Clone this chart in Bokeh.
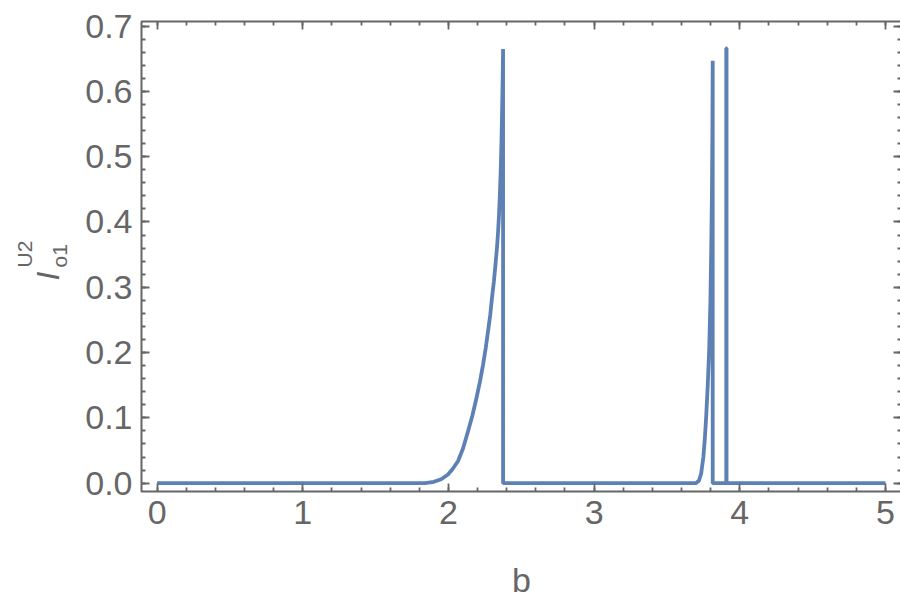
import numpy as np
from bokeh.plotting import figure
from bokeh.models import FixedTicker, LinearAxis, Label, Range1d, NumeralTickFormatter
from bokeh.embed import file_html
from bokeh.resources import INLINE

# ---- data ----
b_vals = [0.0, 1.84, 1.90, 1.95, 1.997, 2.03, 2.066, 2.10, 2.135, 2.165, 2.192, 2.216,
          2.238, 2.256, 2.272, 2.287, 2.299, 2.312, 2.323, 2.333, 2.341, 2.347, 2.352,
          2.358, 2.363, 2.368, 2.372, 2.375, 2.375,
          3.70, 3.72, 3.735, 3.75, 3.76, 3.77, 3.78, 3.79, 3.798, 3.804, 3.809, 3.812,
          3.814, 3.814,
          3.907, 3.907, 3.909, 3.909, 5.0]
i_vals = [0.0, 0.0, 0.002, 0.006, 0.0133, 0.022, 0.034, 0.053, 0.080, 0.104, 0.130, 0.155,
          0.182, 0.207, 0.233, 0.258, 0.284, 0.309, 0.335, 0.360, 0.386, 0.410, 0.437,
          0.472, 0.513, 0.565, 0.615, 0.665, 0.0,
          0.0, 0.004, 0.015, 0.040, 0.068, 0.105, 0.150, 0.205, 0.275, 0.360, 0.450, 0.540,
          0.647, 0.0,
          0.0, 0.666, 0.666, 0.0, 0.0]

x_ticks = [0, 1, 2, 3, 4, 5]
x_minor = [0.0, 0.2, 0.4, 0.6, 0.8, 1.0, 1.2, 1.4, 1.6, 1.8, 2.0, 2.2, 2.4, 2.6, 2.8,
           3.0, 3.2, 3.4, 3.6, 3.8, 4.0, 4.2, 4.4, 4.6, 4.8, 5.0]
y_ticks = [0.0, 0.1, 0.2, 0.3, 0.4, 0.5, 0.6, 0.7]
y_minor = [round(0.02 * k, 2) for k in range(36)]

x_label = "b"
y_main, y_sup, y_sub = "I", "U2", "o1"

GRAY = "#666666"
FONT = "Liberation Sans"
X0, X1 = -0.107, 5.11
Y0, Y1 = -0.0128, 0.7070

p = figure(frame_width=760, frame_height=470,
           x_range=Range1d(X0, X1), y_range=Range1d(Y0, Y1),
           output_backend="svg", toolbar_location=None,
           min_border_left=137, min_border_right=3, min_border_top=21,
           min_border_bottom=119, background_fill_color="white",
           border_fill_color="white")
p.grid.visible = False
p.outline_line_color = GRAY
p.outline_line_width = 2

p.line(b_vals, i_vals, line_color="#5E81B5", line_width=3.8, line_join="bevel")

def style_axis(ax, ticks, minor, labels=True):
    ax.ticker = FixedTicker(ticks=ticks, minor_ticks=minor)
    ax.axis_line_color = None
    ax.major_tick_in = 8
    ax.major_tick_out = 0
    ax.minor_tick_in = 4
    ax.minor_tick_out = 0
    ax.major_tick_line_color = GRAY
    ax.minor_tick_line_color = GRAY
    ax.major_tick_line_width = 1.8
    ax.minor_tick_line_width = 1.8
    if labels:
        ax.major_label_text_font = FONT
        ax.major_label_text_font_size = "34px"
        ax.major_label_text_color = GRAY
    else:
        ax.major_label_text_font_size = "1px"
        ax.major_label_text_color = None
        ax.major_label_standoff = 0

xa = p.xaxis[0]
style_axis(xa, x_ticks, x_minor)
xa.major_label_standoff = 9
xa.axis_label = x_label
xa.axis_label_text_font = FONT
xa.axis_label_text_font_size = "34px"
xa.axis_label_text_font_style = "normal"
xa.axis_label_text_color = GRAY
xa.axis_label_standoff = 34

ya = p.yaxis[0]
style_axis(ya, y_ticks, y_minor)
ya.major_label_standoff = 9
ya.formatter = NumeralTickFormatter(format="0.0")

top = LinearAxis()
style_axis(top, x_ticks, x_minor, labels=False)
p.add_layout(top, "above")
right = LinearAxis()
style_axis(right, y_ticks, y_minor, labels=False)
p.add_layout(right, "right")

ymid = (Y0 + Y1) / 2
common = dict(x=X0, y=ymid, x_units="data", y_units="data", angle=np.pi / 2,
              text_color=GRAY, text_font=FONT, text_baseline="alphabetic",
              text_align="left")
p.add_layout(Label(text=y_main, x_offset=-94, y_offset=-24,
                   text_font_style="italic", text_font_size="32px", **common), "left")
p.add_layout(Label(text=y_sup, x_offset=-117, y_offset=-11,
                   text_font_size="21px", **common), "left")
p.add_layout(Label(text=y_sub, x_offset=-82, y_offset=-11,
                   text_font_size="21px", **common), "left")

open("out.html", "w").write(file_html(p, INLINE))
